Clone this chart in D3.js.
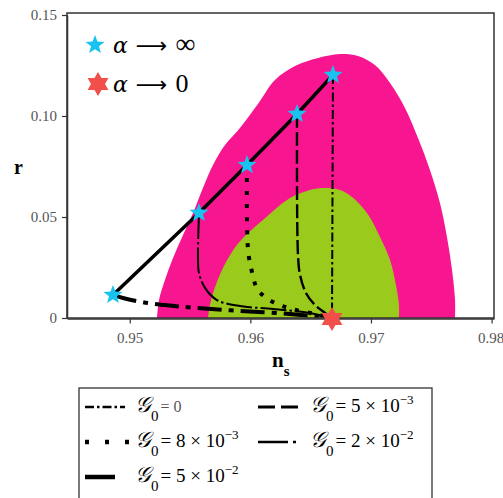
<!DOCTYPE html>
<html><head><meta charset="utf-8">
<script src="https://cdn.jsdelivr.net/npm/d3@7"></script>
<style>body{margin:0;background:#fff}svg text{font-family:"Liberation Serif","Times New Roman",serif}</style>
</head><body><svg id="c" width="503" height="498"></svg>
<script>
// ---- data ----
const xTicks = [0.95, 0.96, 0.97, 0.98];
const xTickLabels = ["0.95", "0.96", "0.97", "0.98"];
const yTicks = [0, 0.05, 0.10, 0.15];
const yTickLabels = ["0", "0.05", "0.10", "0.15"];

// outer (pink) contour, [n_s, r]
const pinkN = [0.95226,0.95243,0.95292,0.95359,0.95442,0.95525,0.95607,0.95699,0.9579,0.95914,0.96063,0.96204,0.9637,0.96561,0.96743,0.96892,0.97033,0.97158,0.97282,0.9739,0.97489,0.97572,0.9763,0.97672,0.97697,0.97697];
const pinkR = [0,0.0089,0.0188,0.0297,0.0411,0.0520,0.0644,0.0767,0.0856,0.0941,0.1059,0.1178,0.1247,0.1287,0.1307,0.1297,0.1252,0.1163,0.1040,0.0891,0.0733,0.0569,0.0401,0.0238,0.0089,0];
// inner (green) contour
const greenN = [0.95649,0.95665,0.95699,0.95765,0.95848,0.95939,0.96105,0.96329,0.96494,0.96619,0.96743,0.96843,0.96967,0.97075,0.97158,0.97207,0.97232,0.97232];
const greenR = [0,0.0064,0.0139,0.0238,0.0327,0.0396,0.0485,0.0594,0.0634,0.0644,0.0634,0.0599,0.0520,0.0401,0.0287,0.0163,0.0064,0];

// alpha -> infinity points (blue stars) and alpha -> 0 point (red star)
const starInfN = [0.94861, 0.95574, 0.95972, 0.96387, 0.96685];
const starInfR = [0.0114, 0.0520, 0.0757, 0.1010, 0.1203];
const starZeroN = [0.96677];
const starZeroR = [0];

// trajectories for different G0
const g0_0_N = [0.96685, 0.96677];
const g0_0_R = [0.1203, 0];
const g0_5e3_N = [0.96387,0.96395,0.96412,0.96461,0.96536,0.96619,0.96677];
const g0_5e3_R = [0.1010,0.0312,0.0213,0.0124,0.0064,0.0025,0];
const g0_8e3_N = [0.95972,0.95981,0.96014,0.96063,0.96188,0.96345,0.96536,0.96677];
const g0_8e3_R = [0.0757,0.0337,0.0228,0.0139,0.0079,0.0045,0.0020,0];
const g0_2e2_N = [0.95574,0.95566,0.95574,0.95624,0.95723,0.95914,0.96188,0.96494,0.96677];
const g0_2e2_R = [0.0520,0.0297,0.0223,0.0149,0.0089,0.0059,0.0045,0.0025,0];
const g0_5e2_N = [0.94861,0.94944,0.95151,0.95292,0.95541,0.95914,0.96329,0.96677];
const g0_5e2_R = [0.0114,0.0099,0.0074,0.0064,0.0050,0.0035,0.0020,0];

const legendLabels = [
  {mant:null, val:"0"},
  {mant:"5", exp:"-3"},
  {mant:"8", exp:"-3"},
  {mant:"2", exp:"-2"},
  {mant:"5", exp:"-2"}
];

// ---- drawing ----
const zip = (a,b)=>a.map((v,i)=>[v,b[i]]);
const svg = d3.select("#c");
const x = d3.scaleLinear().domain([0.9448, 0.9802]).range([67, 494]);
const y = d3.scaleLinear().domain([0, 0.15]).range([318, 15]);

svg.append("clipPath").attr("id","pc").append("rect")
  .attr("x",67).attr("y",13).attr("width",427).attr("height",305);

const area = d3.line().x(d=>x(d[0])).y(d=>y(d[1])).curve(d3.curveCatmullRom.alpha(0.5));
const plot = svg.append("g").attr("clip-path","url(#pc)");
plot.append("path").attr("d", area(zip(pinkN,pinkR))+"Z").attr("fill","#f7168f");
plot.append("path").attr("d", area(zip(greenN,greenR))+"Z").attr("fill","#9acb1c");

const lineC = d3.line().x(d=>x(d[0])).y(d=>y(d[1])).curve(d3.curveCatmullRom.alpha(0.5));
const lin = d3.line().x(d=>x(d[0])).y(d=>y(d[1]));

const styles = {
  g0: {w:2, dash:"9,3,2.5,3", cap:"butt"},
  g5e3: {w:2.4, dash:"14,4", cap:"butt"},
  g8e3: {w:4, dash:"4,9", cap:"butt"},
  g2e2: {w:2, dash:"26,3,2.5,3", cap:"butt"},
  g5e2: {w:4, dash:"none", cap:"butt"}
};
function draw(pts, st, gen, dashOverride){
  plot.append("path").attr("d", gen(pts)).attr("fill","none").attr("stroke","#000")
    .attr("stroke-width", st.w).attr("stroke-dasharray", dashOverride || st.dash)
    .attr("stroke-linecap", st.cap);
}
draw(zip(g0_5e2_N,g0_5e2_R), styles.g5e2, lineC, "24,7,5,7");
draw(zip(g0_2e2_N,g0_2e2_R), styles.g2e2, lineC);
draw(zip(g0_8e3_N,g0_8e3_R), styles.g8e3, lineC);
draw(zip(g0_5e3_N,g0_5e3_R), styles.g5e3, lineC);
draw(zip(g0_0_N,g0_0_R), styles.g0, lin);
// line joining alpha->inf points
plot.append("path").attr("d", lin(zip(starInfN,starInfR))).attr("fill","none")
  .attr("stroke","#000").attr("stroke-width",3.5);

// frame
svg.append("rect").attr("x",67).attr("y",13).attr("width",427).attr("height",305)
  .attr("fill","none").attr("stroke","#333").attr("stroke-width",1.5);

// axes
const xAxis = d3.axisBottom(x).tickValues(xTicks).tickFormat((d,i)=>xTickLabels[i]).tickSize(5).tickSizeOuter(0);
const gx = svg.append("g").attr("transform","translate(0,318.5)").call(xAxis);
gx.select(".domain").attr("stroke","#333").attr("stroke-width",1.5);
gx.selectAll(".tick line").attr("stroke","#333").attr("stroke-width",1.2);
gx.selectAll(".tick text").attr("font-size",15).attr("fill","#555").attr("dy","1.1em")
  .attr("dx",(d,i)=>i===xTicks.length-1?-1:0)
  .attr("text-anchor",(d,i)=>i===xTicks.length-1?"start":"middle")
  .attr("x",(d,i)=>i===xTicks.length-1?-13:0);
const yAxis = d3.axisLeft(y).tickValues(yTicks).tickFormat((d,i)=>yTickLabels[i]).tickSize(5).tickSizeOuter(0);
const gy = svg.append("g").attr("transform","translate(67,0)").call(yAxis);
gy.select(".domain").attr("stroke","#333").attr("stroke-width",1.5);
gy.selectAll(".tick line").attr("stroke","#333").attr("stroke-width",1.2);
gy.selectAll(".tick text").attr("font-size",15).attr("fill","#555").attr("dx","-2");

// axis titles
svg.append("text").attr("x",14).attr("y",174).attr("font-weight","bold").attr("font-size",20).text("r");
const nt = svg.append("text").attr("x",272).attr("y",367).attr("font-weight","bold").attr("font-size",21);
nt.append("tspan").text("n");
nt.append("tspan").attr("dy",9).attr("font-size",15).text("s");

// star markers
function starPath(cx, cy, R, r, n, rot){
  const pts=[];
  for(let i=0;i<2*n;i++){
    const a = rot + i*Math.PI/n;
    const rr = i%2===0?R:r;
    pts.push([cx+rr*Math.sin(a), cy-rr*Math.cos(a)]);
  }
  return "M"+pts.map(p=>p.join(",")).join("L")+"Z";
}
const blue = "#18c3ef", red = "#f24f4a";
svg.append("g").selectAll("path").data(zip(starInfN,starInfR)).join("path")
  .attr("d", d=>starPath(x(d[0]), y(d[1]), 10, 4.2, 5, 0)).attr("fill", blue);
svg.append("g").selectAll("path").data(zip(starZeroN,starZeroR)).join("path")
  .attr("d", d=>starPath(x(d[0]), y(d[1])+1, 12, 7, 6, 0)).attr("fill", red);

// upper-left legend
svg.append("path").attr("d", starPath(95,45,10,4.2,5,0)).attr("fill",blue);
svg.append("path").attr("d", starPath(98,84,12,7,6,0)).attr("fill",red);
function alphaText(yy, tail){
  const t = svg.append("text").attr("x",113).attr("y",yy).attr("font-size",25);
  t.append("tspan").attr("font-style","italic").attr("font-family","DejaVu Serif").attr("font-size",22).text("α");
  t.append("tspan").attr("font-family","DejaVu Sans").attr("font-size",22).attr("dx",8).text("⟶");
  t.append("tspan").attr("dx",8).attr("font-size",tail==="∞"?28:26).text(tail);
}
alphaText(53, "∞");
alphaText(92, "0");

// bottom legend
svg.append("rect").attr("x",79).attr("y",388).attr("width",353).attr("height",120)
  .attr("fill","#fff").attr("stroke","#333").attr("stroke-width",1.3);
const legItems = [
  {st:styles.g0, lx:85, ly:407, len:40, tx:135, lab:legendLabels[0]},
  {st:styles.g5e3, lx:258, ly:407, len:42, tx:310, lab:legendLabels[1], dash:"17,6"},
  {st:styles.g8e3, lx:85, ly:442, len:44, tx:135, lab:legendLabels[2], dash:"4,16"},
  {st:styles.g2e2, lx:258, ly:442, len:42, tx:310, lab:legendLabels[3], dash:"30,5,3,5"},
  {st:styles.g5e2, lx:85, ly:477, len:30, tx:135, lab:legendLabels[4]}
];
legItems.forEach(it=>{
  svg.append("line").attr("x1",it.lx).attr("x2",it.lx+it.len).attr("y1",it.ly).attr("y2",it.ly)
    .attr("stroke","#000").attr("stroke-width", it.st===styles.g5e2?4.5:it.st.w+0.5)
    .attr("stroke-dasharray", it.dash || it.st.dash);
  const t = svg.append("text").attr("x",it.tx).attr("y",it.ly+5).attr("font-size",19);
  t.append("tspan").attr("font-style","italic").attr("font-size",22).text("𝒢");
  t.append("tspan").attr("dy",9).attr("font-size",15).text("0");
  if(it.lab.mant===null){
    t.append("tspan").attr("dy",-9).attr("dx",2).attr("font-size",16).attr("fill","#555").text("= " + it.lab.val);
  } else {
    t.append("tspan").attr("dy",-9).attr("dx",2).text("= " + it.lab.mant + " × 10");
    t.append("tspan").attr("dy",-8).attr("font-size",13).text(it.lab.exp.replace("-","\u2212"));
  }
});
</script>
</body></html>
